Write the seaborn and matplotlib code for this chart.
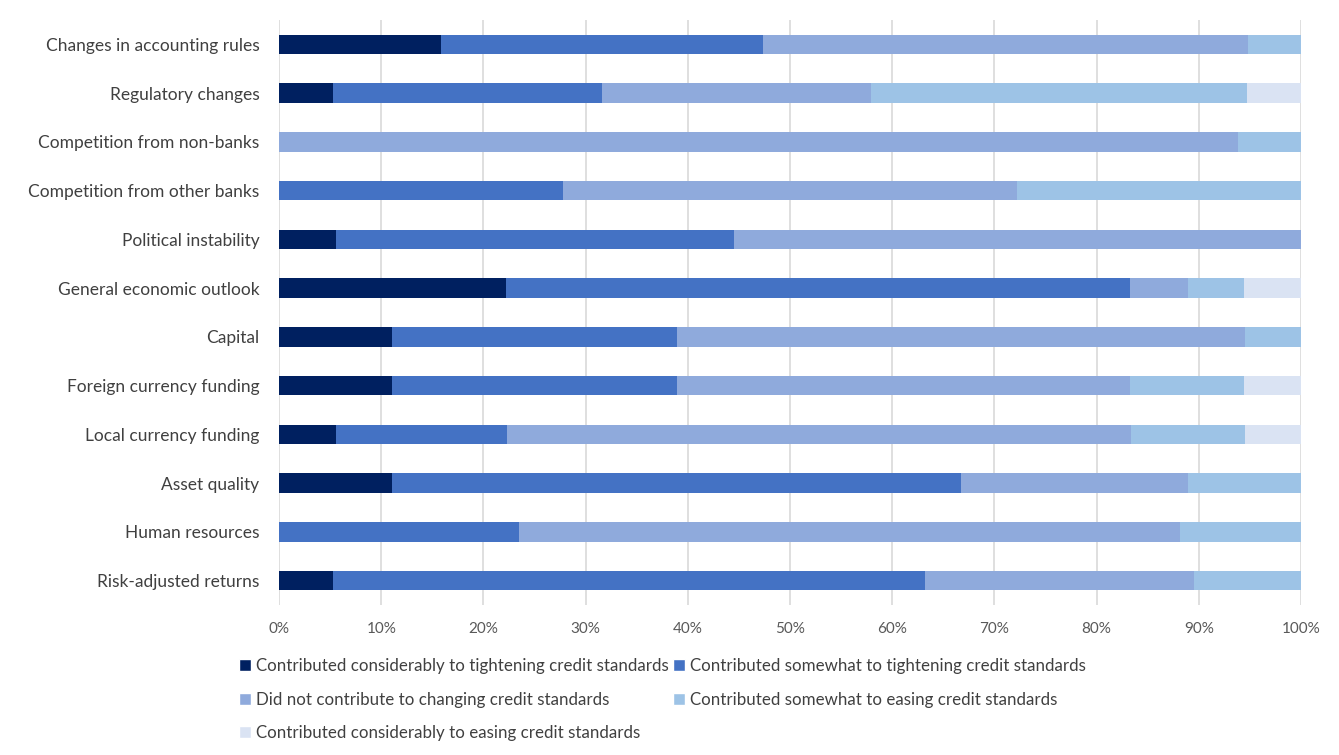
import pandas as pd
import matplotlib.pyplot as plt
import seaborn as sns
from matplotlib.patches import Patch
from matplotlib.ticker import PercentFormatter

factors = ['Changes in accounting rules', 'Regulatory changes', 'Competition from non-banks',
           'Competition from other banks', 'Political instability', 'General economic outlook',
           'Capital', 'Foreign currency funding', 'Local currency funding', 'Asset quality',
           'Human resources', 'Risk-adjusted returns']

# shares in % per answer
tight_consid = [15.8, 5.3, 0, 0, 5.6, 22.2, 11.1, 11.1, 5.6, 11.1, 0, 5.3]
tight_somewhat = [31.6, 26.3, 0, 27.8, 38.9, 61.1, 27.8, 27.8, 16.7, 55.6, 23.5, 57.9]
no_change = [47.4, 26.3, 93.8, 44.4, 55.6, 5.6, 55.6, 44.4, 61.1, 22.2, 64.7, 26.3]
ease_somewhat = [5.2, 36.8, 6.2, 27.8, 0, 5.5, 5.5, 11.1, 11.1, 11.1, 11.8, 10.5]
ease_consid = [0, 5.3, 0, 0, 0, 5.6, 0, 5.6, 5.5, 0, 0, 0]

labels = ['Contributed considerably to tightening credit standards',
          'Contributed somewhat to tightening credit standards',
          'Did not contribute to changing credit standards',
          'Contributed somewhat to easing credit standards',
          'Contributed considerably to easing credit standards']
colors = ['#002060', '#4472C4', '#8FAADC', '#9DC3E6', '#DAE3F3']

df = pd.DataFrame({'factor': factors})
series = [tight_consid, tight_somewhat, no_change, ease_somewhat, ease_consid]
for lab, vals in zip(labels, series):
    df[lab] = vals
cum = df[labels].cumsum(axis=1)

sns.set_style('white')
plt.rcParams['font.family'] = ['Lato', 'DejaVu Sans']

fig = plt.figure(figsize=(13.39, 7.55), dpi=100)
ax = fig.add_axes([0.2084, 0.1987, 0.7632, 0.7748])

# draw stacked bars back to front: biggest cumulative first
for lab, col in reversed(list(zip(labels, colors))):
    sns.barplot(x=cum[lab], y=df['factor'], orient='h', color=col, width=0.4,
                ax=ax, saturation=1, linewidth=0)

ax.set_xlim(0, 100)
ax.set_ylim(11.5, -0.5)
ax.xaxis.set_major_locator(plt.MultipleLocator(10))
ax.xaxis.set_major_formatter(PercentFormatter(decimals=0))
ax.set_xlabel('')
ax.set_ylabel('')
ax.grid(axis='x', color='#D9D9D9', linewidth=1.2)
ax.set_axisbelow(True)
for s in ax.spines.values():
    s.set_visible(False)
ax.tick_params(axis='y', length=0, labelsize=12.5, labelcolor='#404040', pad=14)
ax.tick_params(axis='x', length=0, labelsize=11, labelcolor='#595959', pad=12)

handles = [Patch(facecolor=c, label=l) for l, c in zip(labels, colors)]
order = [0, 2, 4, 1, 3]
fig.legend([handles[i] for i in order], [labels[i] for i in order], ncol=2,
           loc='upper left', bbox_to_anchor=(0.1725, 0.14), frameon=False,
           fontsize=12.2, labelcolor='#404040', handlelength=0.7, handleheight=0.7,
           handletextpad=0.3, columnspacing=0.25, labelspacing=1.05, borderpad=0)

fig.savefig('out.png', dpi=100)
